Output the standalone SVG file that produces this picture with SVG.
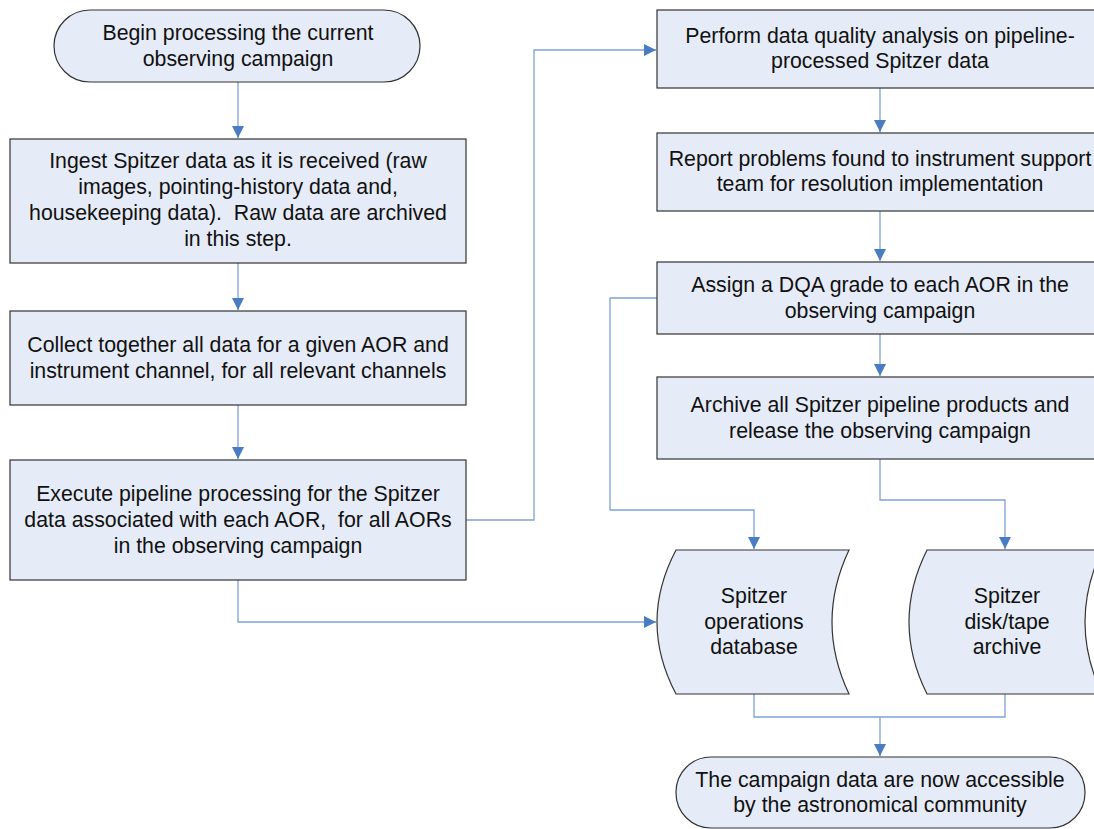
<svg xmlns="http://www.w3.org/2000/svg" width="1094" height="829" viewBox="0 0 1094 829">
<defs>
<style>
.n{fill:#E6ECF7;stroke:#333;stroke-width:1.2}
.t{font-family:"Liberation Sans",Arial,sans-serif;font-size:21.3px;fill:#111;text-anchor:middle;white-space:pre}
.c{fill:none;stroke:#7EA2D6;stroke-width:1.3}
.a{fill:none;stroke:#7EA2D6;stroke-width:1.3;marker-end:url(#ah)}
</style>
<marker id="ah" markerUnits="userSpaceOnUse" markerWidth="14" markerHeight="14" viewBox="0 0 14 14" refX="13" refY="7" orient="auto">
<path d="M1,1 L13,7 L1,13 Z" fill="#4A7CC4"/>
</marker>
</defs>
<rect width="1094" height="829" fill="#fff"/>
<g id="connectors">
<path class="a" d="M238,82 V138"/>
<path class="a" d="M238,263 V310"/>
<path class="a" d="M238,405 V459"/>
<path class="a" d="M466,520 H534 V50 H656"/>
<path class="a" d="M238,580 V622 H656"/>
<path class="a" d="M880,88 V132"/>
<path class="a" d="M880,211 V261"/>
<path class="a" d="M880,334 V376"/>
<path class="a" d="M657,298 H610 V510 H754 V549"/>
<path class="a" d="M880,459 V500 H1005 V549"/>
<path class="c" d="M754,694 V717 H1005 V694"/>
<path class="a" d="M880,717 V756"/>
</g>
<g id="start">
<rect class="n" x="54" y="10" width="366" height="72" rx="36" ry="36"/>
<text class="t" x="238" y="40">Begin processing the current</text>
<text class="t" x="238" y="66">observing campaign</text>
</g>
<g id="ingest">
<rect class="n" x="10" y="139" width="456" height="124"/>
<text class="t" x="238" y="168">Ingest Spitzer data as it is received (raw</text>
<text class="t" x="238" y="194">images, pointing-history data and,</text>
<text class="t" x="238" y="220" xml:space="preserve">housekeeping data).  Raw data are archived</text>
<text class="t" x="238" y="246">in this step.</text>
</g>
<g id="collect">
<rect class="n" x="10" y="311" width="456" height="94"/>
<text class="t" x="238" y="352">Collect together all data for a given AOR and</text>
<text class="t" x="238" y="378">instrument channel, for all relevant channels</text>
</g>
<g id="execute">
<rect class="n" x="10" y="460" width="456" height="120"/>
<text class="t" x="238" y="501">Execute pipeline processing for the Spitzer</text>
<text class="t" x="238" y="527" xml:space="preserve">data associated with each AOR,  for all AORs</text>
<text class="t" x="238" y="553">in the observing campaign</text>
</g>
<g id="dqa">
<rect class="n" x="657" y="10" width="446" height="78"/>
<text class="t" x="880" y="43">Perform data quality analysis on pipeline-</text>
<text class="t" x="880" y="68">processed Spitzer data</text>
</g>
<g id="report">
<rect class="n" x="657" y="133" width="446" height="78"/>
<text class="t" x="880" y="166">Report problems found to instrument support</text>
<text class="t" x="880" y="191">team for resolution implementation</text>
</g>
<g id="grade">
<rect class="n" x="657" y="262" width="446" height="72"/>
<text class="t" x="880" y="292">Assign a DQA grade to each AOR in the</text>
<text class="t" x="880" y="318">observing campaign</text>
</g>
<g id="archive">
<rect class="n" x="657" y="377" width="446" height="82"/>
<text class="t" x="880" y="412">Archive all Spitzer pipeline products and</text>
<text class="t" x="880" y="438">release the observing campaign</text>
</g>
<g id="opsdb">
<path class="n" d="M676,550 L849,550 Q815,622 849,694 L676,694 Q638,622 676,550 Z"/>
<text class="t" x="754" y="603">Spitzer</text>
<text class="t" x="754" y="629">operations</text>
<text class="t" x="754" y="654">database</text>
</g>
<g id="tape">
<path class="n" d="M927,550 L1102,550 Q1068,622 1102,694 L927,694 Q891,622 927,550 Z"/>
<text class="t" x="1007" y="603">Spitzer</text>
<text class="t" x="1007" y="629">disk/tape</text>
<text class="t" x="1007" y="654">archive</text>
</g>
<g id="end">
<rect class="n" x="676" y="757" width="409" height="71" rx="35" ry="35"/>
<text class="t" x="880" y="787">The campaign data are now accessible</text>
<text class="t" x="880" y="812">by the astronomical community</text>
</g>
</svg>
